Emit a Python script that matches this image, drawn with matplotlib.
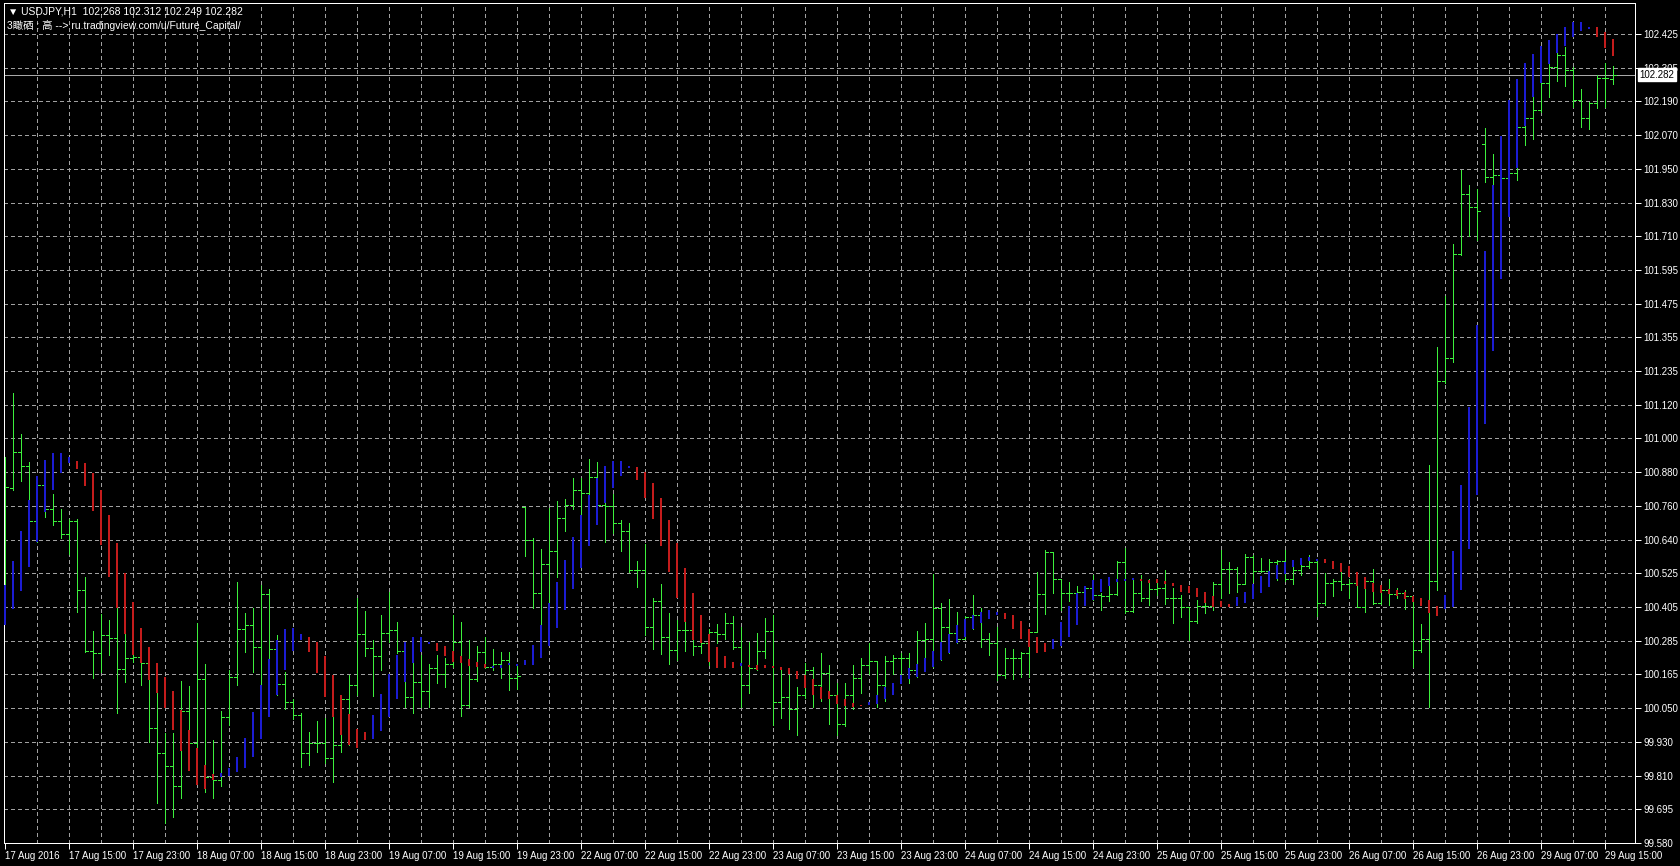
import matplotlib
matplotlib.use('Agg')
import matplotlib.pyplot as plt

plt.rcParams['font.family'] = ['Liberation Sans', 'DejaVu Sans']

# USDJPY H1, bars 17 Aug 07:00 .. 29 Aug 16:00
bar_open = [
    100.40, 100.827, 100.956, 100.906, 100.714, 100.839, 100.754, 100.714, 100.665, 100.714,
    100.468, 100.256, 100.247, 100.313, 100.302, 100.192, 100.232, 100.235, 100.212, 99.983,
    99.895, 99.852, 99.78, 100.044, 99.931, 100.157, 99.813, 99.80, 100.022, 100.164,
    100.331, 100.347, 100.268, 100.454, 100.262, 100.139, 100.077, 100.030, 99.895, 99.931,
    99.930, 99.878, 99.925, 100.088, 100.136, 100.315, 100.267, 100.237, 100.320, 100.329,
    100.255, 100.094, 100.145, 100.115, 100.197, 100.176, 100.208, 100.288, 100.065, 100.155,
    100.250, 100.200, 100.208, 100.224, 100.162, 100.760, 100.647, 100.460, 100.560, 100.607,
    100.724, 100.769, 100.821, 100.812, 100.868, 100.769, 100.766, 100.706, 100.678, 100.540,
    100.541, 100.338, 100.431, 100.305, 100.259, 100.329, 100.330, 100.273, 100.282, 100.323,
    100.315, 100.355, 100.270, 100.136, 100.194, 100.256, 100.326, 100.076, 100.094, 100.05,
    100.101, 100.188, 100.136, 100.179, 100.10, 100.00, 100.10, 100.162, 100.206, 100.221,
    100.136, 100.221, 100.229, 100.232, 100.188, 100.294, 100.296, 100.405, 100.340, 100.319,
    100.299, 100.375, 100.382, 100.299, 100.284, 100.171, 100.229, 100.229, 100.249, 100.323,
    100.456, 100.605, 100.507, 100.460, 100.460, 100.464, 100.475, 100.452, 100.449, 100.456,
    100.569, 100.396, 100.458, 100.440, 100.472, 100.475, 100.440, 100.440, 100.410, 100.361,
    100.413, 100.413, 100.491, 100.542, 100.542, 100.491, 100.586, 100.538, 100.538, 100.569,
    100.573, 100.507, 100.540, 100.554, 100.568, 100.425, 100.493, 100.500, 100.490, 100.493,
    100.410, 100.500, 100.425, 100.470, 100.455, 100.458, 100.448, 100.260, 100.298, 100.503,
    101.203, 101.284, 101.652, 101.863, 101.818, 102.037, 101.923, 101.930, 101.918, 101.937,
    102.099, 102.129, 102.158, 102.253, 102.31, 102.35, 102.297, 102.193, 102.129, 102.184,
    102.27, 102.268]

bar_high = [
    100.938, 101.164, 101.020, 100.920, 100.850, 100.842, 100.808, 100.754, 100.721, 100.721,
    100.515, 100.327, 100.387, 100.364, 100.405, 100.316, 100.260, 100.241, 100.215, 100.124,
    99.966, 99.966, 100.150, 100.132, 100.353, 100.208, 99.942, 100.044, 100.190, 100.499,
    100.390, 100.405, 100.489, 100.472, 100.311, 100.182, 100.088, 100.036, 99.971, 100.009,
    100.020, 100.024, 100.101, 100.171, 100.441, 100.397, 100.294, 100.382, 100.463, 100.358,
    100.270, 100.212, 100.241, 100.208, 100.241, 100.229, 100.382, 100.358, 100.294, 100.273,
    100.303, 100.261, 100.252, 100.252, 100.202, 100.762, 100.651, 100.613, 100.757, 100.784,
    100.788, 100.862, 100.865, 100.932, 100.921, 100.815, 100.807, 100.716, 100.706, 100.571,
    100.632, 100.440, 100.491, 100.390, 100.364, 100.371, 100.340, 100.290, 100.334, 100.350,
    100.390, 100.378, 100.338, 100.288, 100.320, 100.371, 100.382, 100.194, 100.171, 100.129,
    100.212, 100.200, 100.247, 100.206, 100.143, 100.143, 100.206, 100.229, 100.282, 100.221,
    100.236, 100.241, 100.249, 100.249, 100.326, 100.354, 100.526, 100.425, 100.437, 100.393,
    100.378, 100.452, 100.405, 100.317, 100.340, 100.265, 100.261, 100.252, 100.326, 100.534,
    100.610, 100.605, 100.507, 100.499, 100.484, 100.484, 100.522, 100.460, 100.517, 100.573,
    100.616, 100.507, 100.522, 100.507, 100.510, 100.540, 100.475, 100.452, 100.410, 100.434,
    100.428, 100.498, 100.612, 100.569, 100.549, 100.596, 100.593, 100.584, 100.577, 100.575,
    100.612, 100.566, 100.584, 100.594, 100.572, 100.530, 100.508, 100.538, 100.508, 100.515,
    100.515, 100.543, 100.489, 100.508, 100.478, 100.470, 100.450, 100.350, 100.908, 101.325,
    101.502, 101.685, 101.947, 101.895, 101.881, 102.093, 102.003, 101.980, 101.990, 102.12,
    102.16, 102.22, 102.27, 102.33, 102.378, 102.378, 102.31, 102.231, 102.187, 102.281,
    102.322, 102.312]

bar_low = [
    100.359, 100.823, 100.853, 100.704, 100.639, 100.727, 100.698, 100.651, 100.595, 100.393,
    100.250, 100.161, 100.182, 100.241, 100.036, 100.147, 100.215, 100.136, 99.934, 99.72,
    99.65, 99.67, 99.74, 99.85, 99.80, 99.76, 99.74, 99.78, 99.995, 100.136,
    100.252, 100.182, 100.12, 100.23, 100.101, 100.051, 100.016, 99.848, 99.856, 99.899,
    99.860, 99.795, 99.901, 99.925, 100.101, 100.237, 100.097, 100.190, 100.288, 100.247,
    100.059, 100.036, 100.059, 100.057, 100.141, 100.129, 100.200, 100.027, 100.060, 100.150,
    100.194, 100.190, 100.162, 100.118, 100.120, 100.589, 100.405, 100.350, 100.423, 100.516,
    100.678, 100.753, 100.733, 100.804, 100.764, 100.640, 100.669, 100.608, 100.534, 100.479,
    100.311, 100.261, 100.245, 100.210, 100.225, 100.256, 100.241, 100.247, 100.206, 100.282,
    100.299, 100.261, 100.06, 100.106, 100.188, 100.229, 99.995, 100.02, 99.98, 99.96,
    100.09, 100.06, 100.08, 100.00, 99.96, 99.99, 100.05, 100.106, 100.176, 100.06,
    100.08, 100.176, 100.165, 100.141, 100.165, 100.188, 100.200, 100.224, 100.247, 100.282,
    100.296, 100.334, 100.270, 100.241, 100.153, 100.159, 100.155, 100.165, 100.165, 100.323,
    100.387, 100.460, 100.401, 100.43, 100.447, 100.436, 100.434, 100.401, 100.431, 100.452,
    100.390, 100.393, 100.431, 100.417, 100.452, 100.420, 100.354, 100.374, 100.294, 100.355,
    100.388, 100.399, 100.440, 100.458, 100.464, 100.491, 100.499, 100.534, 100.522, 100.505,
    100.502, 100.491, 100.522, 100.546, 100.380, 100.418, 100.448, 100.470, 100.440, 100.410,
    100.392, 100.422, 100.422, 100.418, 100.440, 100.403, 100.200, 100.253, 100.06, 100.470,
    101.198, 101.27, 101.648, 101.713, 101.701, 101.906, 101.899, 101.900, 101.910, 101.911,
    102.034, 102.055, 102.151, 102.205, 102.26, 102.241, 102.170, 102.099, 102.090, 102.164,
    102.170, 102.249]

bar_close = [
    100.831, 100.956, 100.906, 100.714, 100.839, 100.754, 100.714, 100.665, 100.714, 100.468,
    100.256, 100.247, 100.313, 100.302, 100.192, 100.232, 100.235, 100.212, 99.983, 99.895,
    99.852, 99.78, 100.044, 99.931, 100.157, 99.813, 99.80, 100.022, 100.164, 100.331,
    100.347, 100.268, 100.454, 100.262, 100.139, 100.077, 100.030, 99.895, 99.931, 99.930,
    99.878, 99.925, 100.088, 100.136, 100.315, 100.267, 100.237, 100.320, 100.329, 100.255,
    100.094, 100.145, 100.115, 100.197, 100.176, 100.208, 100.288, 100.065, 100.155, 100.250,
    100.200, 100.208, 100.224, 100.162, 100.166, 100.647, 100.460, 100.560, 100.607, 100.724,
    100.769, 100.821, 100.812, 100.868, 100.769, 100.766, 100.706, 100.678, 100.540, 100.541,
    100.338, 100.431, 100.305, 100.259, 100.329, 100.330, 100.273, 100.282, 100.323, 100.315,
    100.355, 100.270, 100.136, 100.194, 100.256, 100.326, 100.076, 100.094, 100.05, 100.101,
    100.188, 100.136, 100.179, 100.10, 100.00, 100.10, 100.162, 100.206, 100.221, 100.136,
    100.221, 100.229, 100.232, 100.188, 100.294, 100.296, 100.405, 100.340, 100.319, 100.299,
    100.375, 100.382, 100.299, 100.284, 100.171, 100.229, 100.229, 100.249, 100.323, 100.456,
    100.605, 100.507, 100.460, 100.460, 100.464, 100.475, 100.452, 100.449, 100.456, 100.569,
    100.396, 100.458, 100.440, 100.472, 100.475, 100.440, 100.440, 100.410, 100.361, 100.413,
    100.413, 100.491, 100.542, 100.542, 100.491, 100.586, 100.538, 100.538, 100.569, 100.573,
    100.507, 100.540, 100.554, 100.568, 100.425, 100.493, 100.500, 100.490, 100.493, 100.410,
    100.500, 100.425, 100.470, 100.455, 100.458, 100.448, 100.260, 100.298, 100.503, 101.203,
    101.284, 101.652, 101.863, 101.818, 101.803, 101.923, 101.930, 101.918, 101.937, 102.099,
    102.129, 102.158, 102.253, 102.31, 102.35, 102.297, 102.193, 102.129, 102.181, 102.269,
    102.27, 102.282]

# smoothed heiken-ashi style indicator (blue = rising, red = falling)
ha_open = [
    100.347, 100.402, 100.466, 100.551, 100.639, 100.745, 100.821, 100.880, 100.915, 100.925,
    100.917, 100.880, 100.821, 100.735, 100.634, 100.528, 100.426, 100.337, 100.270, 100.212,
    100.165, 100.115, 100.048, 99.977, 99.913, 99.854, 99.823, 99.813, 99.817, 99.828,
    99.845, 99.883, 99.946, 100.022, 100.101, 100.188, 100.255, 100.294, 100.306, 100.287,
    100.236, 100.171, 100.101, 100.034, 99.981, 99.969, 99.945, 99.973, 100.024, 100.085,
    100.147, 100.212, 100.252, 100.280, 100.282, 100.273, 100.255, 100.237, 100.226, 100.217,
    100.209, 100.194, 100.197, 100.206, 100.203, 100.205, 100.206, 100.232, 100.273, 100.336,
    100.401, 100.472, 100.546, 100.624, 100.698, 100.774, 100.827, 100.871, 100.897, 100.904,
    100.885, 100.847, 100.792, 100.716, 100.634, 100.546, 100.460, 100.382, 100.316, 100.270,
    100.237, 100.217, 100.202, 100.205, 100.206, 100.206, 100.202, 100.200, 100.194, 100.185,
    100.171, 100.155, 100.129, 100.113, 100.099, 100.085, 100.073, 100.066, 100.064, 100.070,
    100.085, 100.100, 100.139, 100.155, 100.165, 100.182, 100.200, 100.224, 100.247, 100.282,
    100.305, 100.334, 100.354, 100.366, 100.382, 100.390, 100.382, 100.362, 100.334, 100.303,
    100.282, 100.261, 100.273, 100.303, 100.347, 100.413, 100.434, 100.464, 100.484, 100.499,
    100.503, 100.505, 100.510, 100.506, 100.507, 100.502, 100.493, 100.487, 100.484, 100.475,
    100.463, 100.449, 100.431, 100.420, 100.413, 100.423, 100.437, 100.458, 100.482, 100.507,
    100.526, 100.549, 100.557, 100.572, 100.573, 100.578, 100.572, 100.563, 100.553, 100.533,
    100.515, 100.493, 100.486, 100.473, 100.470, 100.463, 100.448, 100.440, 100.433, 100.413,
    100.403, 100.410, 100.470, 100.613, 100.803, 101.053, 101.311, 101.562, 101.780, 101.953,
    102.103, 102.203, 102.253, 102.319, 102.357, 102.383, 102.413, 102.436, 102.443, 102.451,
    102.432, 102.408]

ha_close = [
    100.487, 100.571, 100.677, 100.786, 100.872, 100.927, 100.952, 100.952, 100.938, 100.895,
    100.836, 100.748, 100.628, 100.516, 100.405, 100.316, 100.241, 100.212, 100.153, 100.108,
    100.054, 99.977, 99.902, 99.833, 99.784, 99.77, 99.801, 99.825, 99.843, 99.883,
    99.948, 100.039, 100.136, 100.227, 100.294, 100.334, 100.337, 100.316, 100.252, 100.177,
    100.095, 100.024, 99.960, 99.925, 99.913, 99.943, 100.030, 100.104, 100.174, 100.241,
    100.288, 100.306, 100.306, 100.288, 100.255, 100.236, 100.217, 100.212, 100.202, 100.200,
    100.194, 100.202, 100.206, 100.212, 100.211, 100.224, 100.276, 100.347, 100.423, 100.499,
    100.575, 100.657, 100.733, 100.804, 100.865, 100.906, 100.925, 100.925, 100.906, 100.856,
    100.795, 100.718, 100.624, 100.534, 100.441, 100.358, 100.294, 100.282, 100.217, 100.197,
    100.194, 100.197, 100.212, 100.200, 100.190, 100.194, 100.194, 100.188, 100.176, 100.155,
    100.124, 100.101, 100.088, 100.085, 100.070, 100.062, 100.060, 100.062, 100.075, 100.101,
    100.128, 100.143, 100.171, 100.194, 100.209, 100.229, 100.256, 100.288, 100.315, 100.347,
    100.366, 100.382, 100.393, 100.398, 100.393, 100.366, 100.334, 100.299, 100.270, 100.249,
    100.252, 100.299, 100.358, 100.413, 100.460, 100.484, 100.505, 100.510, 100.517, 100.510,
    100.510, 100.512, 100.502, 100.494, 100.493, 100.491, 100.484, 100.464, 100.460, 100.446,
    100.423, 100.409, 100.409, 100.410, 100.445, 100.464, 100.491, 100.519, 100.538, 100.557,
    100.569, 100.575, 100.584, 100.586, 100.580, 100.563, 100.545, 100.533, 100.515, 100.483,
    100.473, 100.463, 100.458, 100.455, 100.448, 100.437, 100.428, 100.413, 100.388, 100.380,
    100.452, 100.608, 100.838, 101.115, 101.400, 101.663, 101.893, 102.068, 102.193, 102.268,
    102.323, 102.356, 102.383, 102.403, 102.425, 102.448, 102.466, 102.466, 102.448, 102.413,
    102.375, 102.346]

time_labels = ['17 Aug 2016', '17 Aug 15:00', '17 Aug 23:00', '18 Aug 07:00', '18 Aug 15:00',
               '18 Aug 23:00', '19 Aug 07:00', '19 Aug 15:00', '19 Aug 23:00', '22 Aug 07:00',
               '22 Aug 15:00', '22 Aug 23:00', '23 Aug 07:00', '23 Aug 15:00', '23 Aug 23:00',
               '24 Aug 07:00', '24 Aug 15:00', '24 Aug 23:00', '25 Aug 07:00', '25 Aug 15:00',
               '25 Aug 23:00', '26 Aug 07:00', '26 Aug 15:00', '26 Aug 23:00', '29 Aug 07:00',
               '29 Aug 15:00']

price_labels = ['99.580', '99.695', '99.810', '99.930', '100.050', '100.165', '100.285',
                '100.405', '100.525', '100.640', '100.760', '100.880', '101.000', '101.120',
                '101.235', '101.355', '101.475', '101.595', '101.710', '101.830', '101.950',
                '102.070', '102.190', '102.305', '102.425']

last_price = 102.282

bg = 'black'
bar_col = '#3cf03c'
up_col = '#1c1cd2'
dn_col = '#c41c1c'
grid_col = '#a0a0a0'
px = 0.72  # one pixel at 100 dpi, in points

fig = plt.figure(figsize=(16.8, 8.66), dpi=100, facecolor=bg)
ax = fig.add_axes([4 / 1680, 23 / 866, 1631 / 1680, 840 / 866], facecolor=bg)

n = len(bar_open)
xs = list(range(n))
ax.set_xlim(-0.125, 203.75)
ax.set_ylim(99.58, 102.534)

# grid
levels = [99.58 + k * (102.425 - 99.58) / 24 for k in range(len(price_labels))]
for y in levels:
    ax.axhline(y, color=grid_col, lw=px, ls=(0, (3, 3)), zorder=0, antialiased=False)
for x in range(4, n, 4):
    ax.axvline(x, color=grid_col, lw=px, ls=(0, (3, 3)), zorder=0, antialiased=False)

# price bars
ax.vlines(xs, bar_low, bar_high, colors=bar_col, lw=px, zorder=2, antialiased=False)
ax.hlines(bar_open, [x - 0.375 for x in xs], xs, colors=bar_col, lw=px, zorder=2,
          antialiased=False)
ax.hlines(bar_close, xs, [x + 0.375 for x in xs], colors=bar_col, lw=px, zorder=2,
          antialiased=False)

# indicator histogram
ha_cols = [up_col if c >= o else dn_col for o, c in zip(ha_open, ha_close)]
ax.vlines(xs, ha_open, ha_close, colors=ha_cols, lw=2 * px, zorder=3, antialiased=False)

# current price line
ax.axhline(last_price, color='#a8a8a8', lw=px, zorder=1, antialiased=False)

# axes
ax.yaxis.tick_right()
ax.set_yticks(levels)
ax.set_yticklabels(price_labels)
ax.set_xticks(list(range(0, n, 8))[:len(time_labels)])
ax.set_xticklabels(time_labels, ha='left')
ax.tick_params(axis='both', colors='white', labelsize=7, length=4, width=px, pad=2)
for s in ax.spines.values():
    s.set_color('white')
    s.set_linewidth(px)

ax.annotate('102.282', xy=(1.0, last_price), xycoords=('axes fraction', 'data'),
            xytext=(3, 0), textcoords='offset points', ha='left', va='center',
            fontsize=7, color='black', annotation_clip=False, zorder=10,
            bbox=dict(boxstyle='square,pad=0.15', fc='white', ec='white'))

# header
fig.text(8 / 1680, 1 - 12 / 866, '\u25bc USDJPY,H1  102.268 102.312 102.249 102.282',
         color='white', fontsize=7.5, va='center', ha='left',
         family=['Liberation Sans', 'DejaVu Sans'])
fig.text(7 / 1680, 1 - 25 / 866, '3瞰硒 : 高 --> ru.tradingview.com/u/Future_Capital/',
         color='white', fontsize=7.5, va='center', ha='left',
         family=['Liberation Sans', 'Noto Sans CJK SC', 'DejaVu Sans'])

fig.savefig('out.png', dpi=100, facecolor=bg)
